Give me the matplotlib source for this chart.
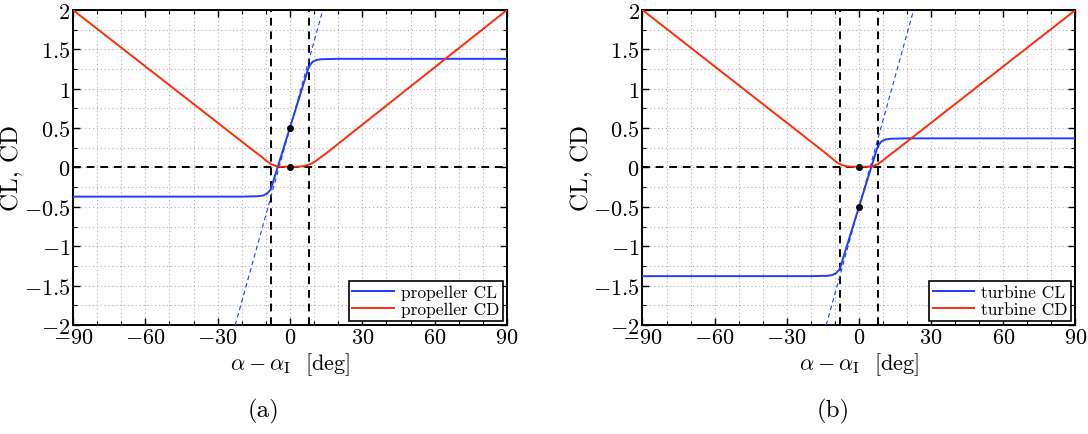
import numpy as np
from matplotlib import pyplot as plt
from matplotlib.ticker import MultipleLocator, FuncFormatter

plt.rcParams["font.family"] = ["cmr10"]
plt.rcParams["mathtext.fontset"] = "cm"
plt.rcParams["axes.formatter.use_mathtext"] = True

# --- data ------------------------------------------------------------------
# propeller
prop_cl_x = [-90, -20, -13, -11, -9.5, -8, 7.5, 8.5, 9.5, 11, 13, 20, 90]
prop_cl_y = [-0.37, -0.37, -0.365, -0.355, -0.33, -0.28, 1.25, 1.31, 1.345, 1.365, 1.375, 1.38, 1.38]
prop_cd_x = [-90, -15, -12, -10, -8, -6, -4, 0, 3, 5, 7, 9, 11, 13, 15, 90]
prop_cd_y = [2.0, 0.21, 0.14, 0.09, 0.045, 0.02, 0.01, 0.01, 0.01, 0.015, 0.028, 0.05, 0.09, 0.135, 0.18, 2.0]
prop_tan_x = [-22.7, 13.6]
prop_tan_y = [-2.0, 2.0]
prop_dots_x = [0, 0]
prop_dots_y = [0.5, 0.0]

# turbine
turb_cl_x = [-90, -20, -13, -11, -9.5, -8, 7.5, 8.5, 9.5, 11, 13, 20, 90]
turb_cl_y = [-1.38, -1.38, -1.375, -1.365, -1.34, -1.29, 0.24, 0.30, 0.335, 0.355, 0.365, 0.37, 0.37]
turb_cd_x = [-90, -15, -13, -11, -9, -7, -5, -3, 0, 4, 6, 8, 10, 12, 15, 90]
turb_cd_y = [2.0, 0.21, 0.16, 0.11, 0.06, 0.03, 0.015, 0.01, 0.01, 0.01, 0.02, 0.045, 0.09, 0.14, 0.21, 2.0]
turb_tan_x = [-13.6, 22.7]
turb_tan_y = [-2.0, 2.0]
turb_dots_x = [0, 0]
turb_dots_y = [0.0, -0.5]

ref_x = [-8, 8]
ref_y = [0]

BLUE = "#1f3cff"
RED = "#ff2a0a"

tick_fmt = FuncFormatter(lambda v, pos: f"${v:g}$")


def draw_panel(ax, cl_x, cl_y, cd_x, cd_y, tan_x, tan_y, dots_x, dots_y, name, caption):
    for xv in ref_x:
        ax.axvline(xv, color="black", linestyle=(0, (4, 3)), linewidth=1.4, zorder=2)
    for yv in ref_y:
        ax.axhline(yv, color="black", linestyle=(0, (4, 3)), linewidth=1.4, zorder=2)

    ax.plot(tan_x, tan_y, color=BLUE, linestyle=(0, (4, 3)), linewidth=0.8, zorder=3)
    ax.plot(cl_x, cl_y, color=BLUE, linewidth=1.4, label=f"{name} CL", zorder=4)
    ax.plot(cd_x, cd_y, color=RED, linewidth=1.4, label=f"{name} CD", zorder=4)
    ax.plot(dots_x, dots_y, "o", color="black", markersize=4, zorder=5)

    ax.set_xlim(-90, 90)
    ax.set_ylim(-2, 2)
    ax.xaxis.set_major_locator(MultipleLocator(30))
    ax.xaxis.set_minor_locator(MultipleLocator(10))
    ax.yaxis.set_major_locator(MultipleLocator(0.5))
    ax.yaxis.set_minor_locator(MultipleLocator(0.25))
    ax.xaxis.set_major_formatter(tick_fmt)
    ax.yaxis.set_major_formatter(tick_fmt)
    ax.grid(True, which="both", color="#b0b0b0", linestyle=(0, (1, 2.5)), linewidth=0.8)
    ax.tick_params(which="both", direction="in", top=True, right=True, labelsize=16, pad=2)
    ax.tick_params(which="major", length=5, width=1)
    ax.tick_params(which="minor", length=3, width=0.8)
    for sp in ax.spines.values():
        sp.set_linewidth(1.4)

    ax.set_xlabel(r"$\alpha - \alpha_{\rm I}$  [deg]", fontsize=16, labelpad=2)
    ax.set_ylabel("CL, CD", fontsize=18, labelpad=0)

    leg = ax.legend(loc="lower right", fontsize=12.5, fancybox=False, framealpha=1,
                    edgecolor="black", handlelength=2.4, borderpad=0.2,
                    labelspacing=0.1, borderaxespad=0.25, handletextpad=0.4)
    leg.get_frame().set_linewidth(1.2)

    ax.text(0.44, -0.23, caption, transform=ax.transAxes, fontsize=18,
            ha="center", va="top")


fig = plt.figure(figsize=(10.88, 4.35), dpi=100)
ax_a = fig.add_axes([0.0671, 0.2506, 0.3989, 0.7241])
ax_b = fig.add_axes([0.5905, 0.2506, 0.3980, 0.7241])

draw_panel(ax_a, prop_cl_x, prop_cl_y, prop_cd_x, prop_cd_y,
           prop_tan_x, prop_tan_y, prop_dots_x, prop_dots_y, "propeller", "(a)")
draw_panel(ax_b, turb_cl_x, turb_cl_y, turb_cd_x, turb_cd_y,
           turb_tan_x, turb_tan_y, turb_dots_x, turb_dots_y, "turbine", "(b)")

fig.savefig("out.png", dpi=100)
